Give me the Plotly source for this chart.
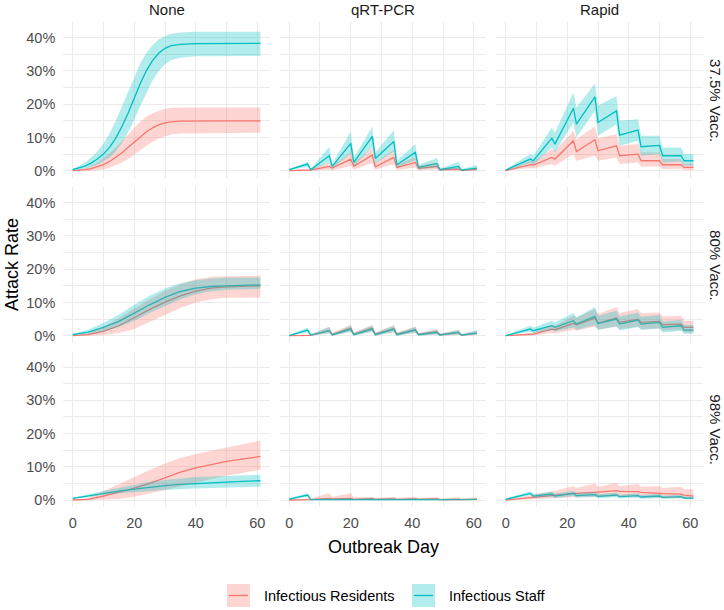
import plotly.graph_objects as go

W, H = 724, 610

# ---------------- data (attack rate, %) ----------------
# "None" testing: smooth curves
none_days_375 = [0, 2, 4, 6, 8, 10, 12, 14, 16, 18, 20, 22, 24, 26, 28, 30, 32, 35, 40, 50, 61]
none375_staff_mid = [0.3, 0.8, 1.4, 2.3, 3.5, 5.0, 7.0, 9.8, 13.3, 17.3, 21.8, 26.3, 30.2, 33.2, 35.4, 36.8, 37.6, 38.0, 38.2, 38.3, 38.3]
none375_staff_hi = [0.5, 1.4, 2.5, 4.0, 5.8, 8.2, 11.2, 15.0, 19.3, 23.8, 28.3, 32.3, 35.5, 37.8, 39.5, 40.5, 41.2, 41.6, 41.8, 41.8, 41.8]
none375_staff_lo = [0.1, 0.3, 0.6, 1.1, 1.8, 2.8, 4.0, 5.8, 8.3, 11.5, 15.3, 19.5, 23.5, 27.2, 30.0, 32.0, 33.3, 34.0, 34.4, 34.5, 34.5]
none375_res_mid = [0.0, 0.1, 0.3, 0.6, 1.1, 1.8, 2.8, 4.0, 5.4, 7.0, 8.6, 10.2, 11.7, 12.9, 13.8, 14.4, 14.7, 14.9, 15.0, 15.0, 15.0]
none375_res_hi = [0.1, 0.3, 0.8, 1.5, 2.5, 3.8, 5.3, 7.0, 9.0, 11.0, 13.0, 14.8, 16.3, 17.3, 18.0, 18.6, 18.9, 19.0, 19.0, 19.0, 19.0]
none375_res_lo = [0.0, 0.0, 0.0, 0.0, 0.1, 0.4, 0.9, 1.6, 2.5, 3.5, 4.8, 6.2, 7.6, 8.8, 9.7, 10.4, 10.9, 11.2, 11.4, 11.4, 11.4]

none_days = [0, 5, 10, 15, 20, 25, 30, 35, 40, 45, 50, 55, 61]
none80_staff_mid = [0.3, 1.1, 2.5, 4.3, 6.8, 9.3, 11.5, 13.3, 14.3, 14.8, 15.0, 15.2, 15.3]
none80_staff_hi = [0.6, 1.8, 3.8, 6.3, 9.3, 12.0, 14.2, 15.8, 16.7, 17.2, 17.4, 17.5, 17.5]
none80_staff_lo = [0.1, 0.5, 1.3, 2.6, 4.5, 6.8, 9.0, 11.0, 12.5, 13.4, 13.8, 14.0, 14.1]
none80_res_mid = [0.0, 0.3, 1.3, 3.0, 5.4, 7.9, 10.1, 12.0, 13.4, 14.3, 14.7, 14.9, 15.0]
none80_res_hi = [0.1, 0.8, 2.7, 5.3, 8.2, 11.0, 13.5, 15.5, 17.0, 17.7, 17.9, 18.0, 18.0]
none80_res_lo = [0.0, 0.0, 0.2, 0.8, 2.0, 4.0, 6.2, 8.3, 10.0, 11.0, 11.4, 11.5, 11.5]

none98_staff_mid = [0.5, 1.3, 2.0, 2.7, 3.3, 3.9, 4.3, 4.7, 5.0, 5.2, 5.4, 5.6, 5.8]
none98_staff_hi = [0.7, 1.8, 2.7, 3.6, 4.5, 5.4, 6.0, 6.5, 6.9, 7.1, 7.3, 7.5, 7.6]
none98_staff_lo = [0.3, 0.9, 1.5, 2.0, 2.4, 2.8, 3.0, 3.3, 3.5, 3.7, 3.8, 3.9, 4.0]
none98_res_mid = [0.0, 0.2, 1.2, 2.3, 3.6, 5.0, 6.8, 8.4, 9.7, 10.7, 11.6, 12.3, 13.1]
none98_res_hi = [0.1, 0.6, 2.6, 4.8, 6.9, 9.0, 11.0, 12.6, 13.8, 14.8, 15.8, 16.8, 17.9]
none98_res_lo = [0.0, 0.0, 0.1, 0.3, 1.0, 2.0, 3.0, 4.1, 5.3, 6.3, 7.3, 8.2, 9.1]

# qRT-PCR testing: weekly sawtooth
pcr_days = [0, 6, 7, 13, 14, 20, 21, 27, 28, 34, 35, 41, 42, 48, 49, 55, 56, 61]
pcr375_staff_mid = [0.3, 2.0, 0.3, 4.5, 1.3, 8.2, 2.5, 10.3, 3.7, 8.8, 1.8, 5.5, 1.0, 2.2, 0.3, 1.3, 0.2, 0.8]
pcr375_staff_hi = [0.5, 2.7, 0.6, 7.2, 2.2, 11.7, 4.0, 13.2, 5.5, 12.2, 3.0, 8.0, 1.8, 3.8, 0.7, 2.7, 0.5, 1.7]
pcr375_staff_lo = [0.1, 1.2, 0.1, 2.5, 0.6, 5.2, 1.3, 7.2, 2.2, 5.8, 0.9, 3.2, 0.4, 1.0, 0.0, 0.5, 0.0, 0.2]
pcr375_res_mid = [0.0, 0.3, 0.2, 1.3, 0.8, 3.5, 1.3, 4.7, 1.2, 4.0, 1.0, 2.5, 0.7, 1.3, 0.3, 0.5, 0.1, 0.4]
pcr375_res_hi = [0.1, 0.7, 0.5, 2.5, 1.6, 5.5, 2.5, 7.0, 2.5, 6.2, 2.0, 4.0, 1.5, 2.3, 0.7, 1.0, 0.3, 0.8]
pcr375_res_lo = [0.0, 0.0, 0.0, 0.3, 0.1, 1.5, 0.3, 2.3, 0.3, 2.0, 0.2, 1.0, 0.1, 0.4, 0.0, 0.1, 0.0, 0.1]

pcr80_staff_mid = [0.0, 1.7, 0.2, 1.5, 0.2, 2.0, 0.3, 2.0, 0.3, 2.0, 0.3, 1.7, 0.3, 1.0, 0.2, 1.0, 0.2, 0.8]
pcr80_staff_hi = [0.2, 2.5, 0.5, 2.6, 0.6, 3.0, 0.8, 3.0, 0.8, 3.0, 0.8, 2.6, 0.7, 1.8, 0.5, 1.8, 0.4, 1.7]
pcr80_staff_lo = [0.0, 1.0, 0.0, 0.8, 0.0, 1.2, 0.0, 1.2, 0.0, 1.2, 0.0, 1.0, 0.0, 0.4, 0.0, 0.4, 0.0, 0.3]
pcr80_res_mid = [0.0, 0.1, 0.1, 1.6, 0.4, 2.2, 0.5, 2.2, 0.5, 2.1, 0.5, 1.8, 0.4, 1.2, 0.3, 1.0, 0.2, 0.8]
pcr80_res_hi = [0.0, 0.3, 0.3, 2.7, 0.9, 3.3, 1.0, 3.3, 1.0, 3.2, 1.0, 2.8, 0.8, 2.0, 0.6, 1.8, 0.5, 1.5]
pcr80_res_lo = [0.0, 0.0, 0.0, 0.7, 0.1, 1.2, 0.1, 1.2, 0.1, 1.0, 0.1, 0.8, 0.1, 0.4, 0.0, 0.3, 0.0, 0.2]

pcr98_staff_mid = [0.3, 1.5, 0.1, 0.2, 0.1, 0.2, 0.1, 0.2, 0.1, 0.2, 0.1, 0.2, 0.1, 0.2, 0.1, 0.2, 0.1, 0.2]
pcr98_staff_hi = [0.5, 2.0, 0.3, 0.5, 0.3, 0.6, 0.3, 0.7, 0.3, 0.5, 0.3, 0.5, 0.3, 0.4, 0.2, 0.4, 0.2, 0.4]
pcr98_staff_lo = [0.1, 1.0, 0.0, 0.0, 0.0, 0.0, 0.0, 0.0, 0.0, 0.0, 0.0, 0.0, 0.0, 0.0, 0.0, 0.0, 0.0, 0.0]
pcr98_res_mid = [0.0, 0.1, 0.1, 0.5, 0.3, 0.5, 0.2, 0.4, 0.2, 0.3, 0.2, 0.3, 0.2, 0.3, 0.1, 0.2, 0.1, 0.2]
pcr98_res_hi = [0.0, 0.3, 0.5, 2.0, 1.0, 2.0, 0.8, 1.0, 0.6, 1.0, 0.6, 1.0, 0.5, 0.9, 0.4, 0.8, 0.3, 0.8]
pcr98_res_lo = [0.0] * 18

# Rapid testing: weekly sawtooth
rapid_days = [0, 8, 9, 15, 16, 22, 23, 29, 30, 36, 37, 43, 44, 50, 51, 57, 58, 61]
rapid375_staff_mid = [0.2, 3.5, 3.0, 9.8, 8.0, 18.8, 14.0, 22.2, 14.5, 18.0, 10.7, 12.2, 7.2, 7.6, 4.5, 4.5, 3.0, 3.0]
rapid375_staff_hi = [0.4, 5.0, 4.5, 13.0, 11.5, 23.5, 19.0, 26.2, 19.5, 22.5, 15.0, 15.5, 10.5, 10.5, 7.0, 7.0, 5.0, 5.0]
rapid375_staff_lo = [0.0, 2.3, 1.8, 7.0, 5.5, 14.5, 10.0, 18.0, 10.5, 14.0, 7.5, 9.0, 4.5, 5.0, 2.5, 2.8, 1.5, 1.5]
rapid375_res_mid = [0.0, 1.8, 1.7, 4.0, 3.5, 9.0, 5.8, 9.3, 6.0, 7.5, 4.5, 5.0, 3.0, 3.0, 1.8, 1.8, 1.0, 1.0]
rapid375_res_hi = [0.1, 3.0, 2.8, 6.5, 6.0, 12.0, 9.5, 13.2, 9.8, 11.0, 7.5, 8.0, 5.5, 5.5, 3.5, 3.5, 2.2, 2.2]
rapid375_res_lo = [0.0, 0.8, 0.7, 2.0, 1.5, 5.0, 3.0, 4.5, 3.0, 4.0, 2.0, 2.5, 1.2, 1.3, 0.5, 0.6, 0.2, 0.2]

rapid80_staff_mid = [0.0, 2.0, 1.5, 3.0, 2.5, 4.5, 3.5, 5.8, 3.7, 5.0, 3.5, 4.7, 3.5, 4.0, 2.5, 3.0, 1.7, 1.7]
rapid80_staff_hi = [0.2, 3.0, 2.5, 4.5, 4.0, 6.8, 5.5, 8.6, 6.0, 7.5, 5.8, 7.0, 5.7, 6.2, 4.2, 4.8, 3.2, 3.2]
rapid80_staff_lo = [0.0, 1.2, 0.8, 1.7, 1.3, 2.5, 1.8, 3.2, 1.8, 2.8, 1.6, 2.6, 1.7, 2.2, 1.0, 1.5, 0.6, 0.6]
rapid80_res_mid = [0.0, 0.5, 0.5, 2.0, 1.8, 3.7, 3.3, 5.3, 3.8, 5.3, 4.0, 5.0, 4.0, 4.3, 3.3, 3.5, 2.5, 2.5]
rapid80_res_hi = [0.0, 1.0, 1.0, 3.3, 3.0, 6.0, 5.5, 8.0, 6.5, 8.6, 6.8, 8.0, 6.8, 7.0, 5.8, 6.0, 4.5, 4.5]
rapid80_res_lo = [0.0, 0.1, 0.1, 0.8, 0.7, 1.8, 1.5, 2.8, 1.8, 2.8, 2.0, 2.7, 2.0, 2.2, 1.5, 1.7, 1.0, 1.0]

rapid98_staff_mid = [0.2, 2.0, 1.2, 1.8, 1.2, 2.0, 1.3, 1.6, 1.1, 1.5, 1.0, 1.3, 0.9, 1.2, 0.8, 1.0, 0.6, 0.5]
rapid98_staff_hi = [0.4, 2.6, 1.8, 2.5, 1.9, 2.8, 2.0, 2.4, 1.8, 2.2, 1.6, 2.0, 1.5, 1.8, 1.3, 1.6, 1.1, 1.0]
rapid98_staff_lo = [0.0, 1.4, 0.7, 1.0, 0.6, 1.2, 0.7, 0.9, 0.5, 0.8, 0.5, 0.7, 0.4, 0.6, 0.3, 0.5, 0.2, 0.2]
rapid98_res_mid = [0.0, 0.8, 0.8, 1.4, 1.4, 2.0, 2.0, 2.5, 2.4, 2.8, 2.6, 2.5, 2.3, 2.0, 1.9, 1.8, 1.5, 1.2]
rapid98_res_hi = [0.0, 1.5, 1.5, 2.8, 2.8, 4.2, 3.6, 5.0, 4.0, 5.2, 4.2, 4.8, 4.0, 4.2, 3.6, 4.0, 3.2, 3.2]
rapid98_res_lo = [0.0, 0.2, 0.2, 0.5, 0.5, 0.8, 0.8, 1.0, 0.9, 1.2, 1.0, 1.0, 0.8, 0.7, 0.6, 0.5, 0.4, 0.3]

col_labels = ["None", "qRT-PCR", "Rapid"]
row_labels = ["37.5% Vacc.", "80% Vacc.", "98% Vacc."]
series_labels = ["Infectious Residents", "Infectious Staff"]
x_ticks = [0, 20, 40, 60]
y_ticks = [0, 10, 20, 30, 40]
y_ticktext = ["0%", "10%", "20%", "30%", "40%"]

# ---------------- styling ----------------
RES = "#F8766D"
STAFF = "#00BFC4"
RES_FILL = "rgba(248,118,109,0.3)"
STAFF_FILL = "rgba(0,191,196,0.3)"
FONT = "Liberation Sans, Arial, sans-serif"
GRID = "#EBEBEB"

def px(x):
    return x / W

def py(y):
    return 1 - y / H

col_px = [(63.3, 269.8), (279.8, 486.3), (496.3, 702.8)]
row_px = [(22.4, 177.7), (187.4, 342.7), (351.7, 507.0)]

panels = [
    [(none_days_375, none375_res_mid, none375_res_lo, none375_res_hi,
      none375_staff_mid, none375_staff_lo, none375_staff_hi),
     (pcr_days, pcr375_res_mid, pcr375_res_lo, pcr375_res_hi,
      pcr375_staff_mid, pcr375_staff_lo, pcr375_staff_hi),
     (rapid_days, rapid375_res_mid, rapid375_res_lo, rapid375_res_hi,
      rapid375_staff_mid, rapid375_staff_lo, rapid375_staff_hi)],
    [(none_days, none80_res_mid, none80_res_lo, none80_res_hi,
      none80_staff_mid, none80_staff_lo, none80_staff_hi),
     (pcr_days, pcr80_res_mid, pcr80_res_lo, pcr80_res_hi,
      pcr80_staff_mid, pcr80_staff_lo, pcr80_staff_hi),
     (rapid_days, rapid80_res_mid, rapid80_res_lo, rapid80_res_hi,
      rapid80_staff_mid, rapid80_staff_lo, rapid80_staff_hi)],
    [(none_days, none98_res_mid, none98_res_lo, none98_res_hi,
      none98_staff_mid, none98_staff_lo, none98_staff_hi),
     (pcr_days, pcr98_res_mid, pcr98_res_lo, pcr98_res_hi,
      pcr98_staff_mid, pcr98_staff_lo, pcr98_staff_hi),
     (rapid_days, rapid98_res_mid, rapid98_res_lo, rapid98_res_hi,
      rapid98_staff_mid, rapid98_staff_lo, rapid98_staff_hi)],
]

fig = go.Figure()
layout = {}

for r in range(3):
    for c in range(3):
        k = r * 3 + c + 1
        xa = "x" if k == 1 else f"x{k}"
        ya = "y" if k == 1 else f"y{k}"
        days, rm, rl, rh, sm, sl, sh = panels[r][c]
        # lines first, ribbons on top (as in the reference)
        fig.add_trace(go.Scatter(x=days, y=rm, mode="lines", line=dict(color=RES, width=1.3),
                                 xaxis=xa, yaxis=ya, showlegend=False, hoverinfo="skip"))
        fig.add_trace(go.Scatter(x=days, y=sm, mode="lines", line=dict(color=STAFF, width=1.3),
                                 xaxis=xa, yaxis=ya, showlegend=False, hoverinfo="skip"))
        fig.add_trace(go.Scatter(x=list(days) + list(days)[::-1], y=list(rh) + list(rl)[::-1],
                                 mode="lines", fill="toself", fillcolor=RES_FILL,
                                 line=dict(width=0, color=RES_FILL),
                                 xaxis=xa, yaxis=ya, showlegend=False, hoverinfo="skip"))
        fig.add_trace(go.Scatter(x=list(days) + list(days)[::-1], y=list(sh) + list(sl)[::-1],
                                 mode="lines", fill="toself", fillcolor=STAFF_FILL,
                                 line=dict(width=0, color=STAFF_FILL),
                                 xaxis=xa, yaxis=ya, showlegend=False, hoverinfo="skip"))

        x0, x1 = col_px[c]
        y0, y1 = row_px[r]
        layout["xaxis" if k == 1 else f"xaxis{k}"] = dict(
            domain=[px(x0), px(x1)], anchor=ya, range=[-3.05, 64.05],
            tickvals=x_ticks, ticks="", showticklabels=(r == 2), ticklabelstandoff=5,
            tickfont=dict(family=FONT, size=14.5, color="#4D4D4D"),
            showgrid=True, gridcolor=GRID, gridwidth=1.1, zeroline=False, showline=False,
            minor=dict(tickvals=[10, 30, 50], showgrid=True, gridcolor=GRID, gridwidth=0.55),
            fixedrange=True)
        layout["yaxis" if k == 1 else f"yaxis{k}"] = dict(
            domain=[py(y1), py(y0)], anchor=xa, range=[-2.1, 44.6],
            tickvals=y_ticks, ticktext=y_ticktext, ticks="", showticklabels=(c == 0),
            ticklabelstandoff=7,
            tickfont=dict(family=FONT, size=14.5, color="#4D4D4D"),
            showgrid=True, gridcolor=GRID, gridwidth=1.1, zeroline=False, showline=False,
            minor=dict(tickvals=[5, 15, 25, 35], showgrid=True, gridcolor=GRID, gridwidth=0.55),
            fixedrange=True)

annotations = []
for c in range(3):
    annotations.append(dict(text=col_labels[c], x=px(sum(col_px[c]) / 2), y=py(9),
                            xref="paper", yref="paper", showarrow=False,
                            xanchor="center", yanchor="middle",
                            font=dict(family=FONT, size=15, color="#1A1A1A")))
for r in range(3):
    annotations.append(dict(text=row_labels[r], x=px(716), y=py(sum(row_px[r]) / 2),
                            xref="paper", yref="paper", showarrow=False, textangle=90,
                            xanchor="center", yanchor="middle",
                            font=dict(family=FONT, size=15, color="#1A1A1A")))
annotations.append(dict(text="Attack Rate", x=px(12), y=py(265), xref="paper", yref="paper",
                        showarrow=False, textangle=-90, xanchor="center", yanchor="middle",
                        font=dict(family=FONT, size=18, color="black")))
annotations.append(dict(text="Outbreak Day", x=px(383), y=py(547), xref="paper", yref="paper",
                        showarrow=False, xanchor="center", yanchor="middle",
                        font=dict(family=FONT, size=18, color="black")))

# legend (ggplot-style keys)
shapes = []
legend_items = [(227, 262, RES, RES_FILL, series_labels[0]),
                (412, 447, STAFF, STAFF_FILL, series_labels[1])]
for kx, tx, lc, fc, lab in legend_items:
    shapes.append(dict(type="rect", xref="paper", yref="paper",
                       x0=px(kx), x1=px(kx + 23), y0=py(607), y1=py(584),
                       fillcolor=fc, line=dict(width=0)))
    shapes.append(dict(type="line", xref="paper", yref="paper",
                       x0=px(kx + 2), x1=px(kx + 21), y0=py(595.5), y1=py(595.5),
                       line=dict(color=lc, width=1.3)))
    annotations.append(dict(text=lab, x=px(tx), y=py(596), xref="paper", yref="paper",
                            showarrow=False, xanchor="left", yanchor="middle",
                            font=dict(family=FONT, size=14.5, color="black")))

fig.update_layout(
    width=W, height=H,
    margin=dict(l=0, r=0, t=0, b=0),
    paper_bgcolor="white", plot_bgcolor="white",
    showlegend=False,
    annotations=annotations, shapes=shapes,
    **layout,
)

fig.write_html("out.html", post_script="document.body.style.margin='0';",
               config={"displayModeBar": False})
